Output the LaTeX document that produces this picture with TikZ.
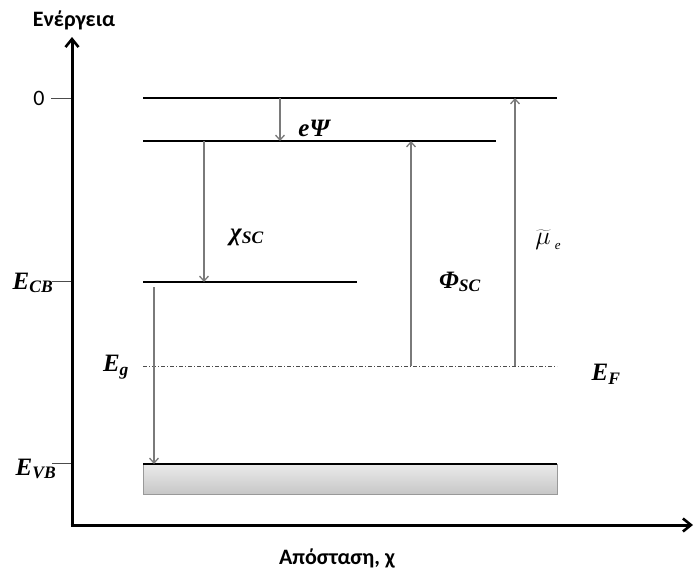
\RequirePackage{fix-cm}
\documentclass[tikz,border=0pt]{standalone}
\usepackage{fontspec}
\setmainfont{Liberation Serif}
\newfontfamily\axisfont{Carlito}
\usetikzlibrary{arrows.meta, positioning}

\definecolor{arrowgray}{HTML}{7A7A7A}
\newcommand{\symlab}[2]{{\bfseries\itshape #1\textsubscript{#2}}}

\begin{document}
\begin{tikzpicture}[x=1pt, y=-1pt,
    level/.style={line width=2.6pt, black},
    axis/.style={line width=3pt, -{Straight Barb[length=8pt, width=13pt, line width=2.6pt]}},
    gap/.style={line width=1.6pt, arrowgray, -{Straight Barb[length=5pt, width=9pt, line width=1.3pt]}},
    tick/.style={line width=0.6pt, black!70},
    sym/.style={font=\fontsize{25}{27}\selectfont},
    ax/.style={font=\axisfont\bfseries\fontsize{22}{24}\selectfont}]
  \useasboundingbox (0,0) rectangle (694,571);

  % axes
  \coordinate (origin) at (72,525);
  \coordinate (ytop)   at (72,37);
  \coordinate (xend)   at (693,525);
  \draw[axis] ([yshift=1.5pt]origin) -- (ytop);
  \draw[axis] ([xshift=-1.5pt]origin) -- (xend);
  \node (energy) [ax] at (74,20)  {Ενέργεια};
  \node (dist)   [ax] at (337,558) {Απόσταση, χ};

  % ticks on the energy axis
  \draw[tick] (51,98) -- (71,98);
  \draw[tick] (52,281) -- (71,281);
  \draw[tick] (52,463) -- (71,463);
  \node (zero) [font=\axisfont\fontsize{22}{24}\selectfont] at (39,98) {0};
  \node (ecb)  [sym] at (33,283) {\symlab{E}{CB}};
  \node (evb)  [sym] at (36,469) {\symlab{E}{VB}};

  % valence band
  \shade[top color=black!8, bottom color=black!22, draw=black!40, line width=0.5pt]
    (143,464) rectangle (557,494);

  % energy levels
  \draw[level] (143,98)  coordinate (vac0) -- (557,98)  coordinate (vac1);
  \draw[level] (143,141) coordinate (vs0)  -- (496,141) coordinate (vs1);
  \draw[level] (143,282) coordinate (cb0)  -- (357,282) coordinate (cb1);
  \draw[level] (143,464) coordinate (vb0)  -- (557,464) coordinate (vb1);
  \draw[line width=0.6pt, black!70, dash pattern=on 4pt off 2pt on 1pt off 2pt]
    (143,366) coordinate (ef0) -- (557,366) coordinate (ef1);

  % arrow ends
  \coordinate (a1) at (280,98);  \coordinate (b1) at (280,141);
  \coordinate (a2) at (204,141); \coordinate (b2) at (204,282);
  \coordinate (a3) at (154,287); \coordinate (b3) at (154,464);
  \coordinate (a4) at (411,366); \coordinate (b4) at (411,141);
  \coordinate (a5) at (515,366); \coordinate (b5) at (515,98);
  \foreach \a/\b in {a1/b1, a2/b2, a3/b3, a4/b4, a5/b5}
    \draw[gap] (\a) -- (\b);

  % labels
  \node (epsi) [sym] at (314,128) {{\bfseries\itshape eΨ}};
  \node (chi)  [sym] at (247,237) {\symlab{χ}{SC}};
  \node (phi)  [sym] at (460,282) {\symlab{Φ}{SC}};
  \node (mu)   [font=\fontsize{26}{28}\selectfont, inner sep=0pt] at (548,240)
    {$\widetilde{\mu}$\,\raisebox{-5pt}{\fontsize{13}{13}\selectfont\itshape e}};
  \node (eg)   [sym] at (116,367) {\symlab{E}{g}};
  \node (ef)   [sym] at (606,374) {\symlab{E}{F}};
\end{tikzpicture}
\end{document}
